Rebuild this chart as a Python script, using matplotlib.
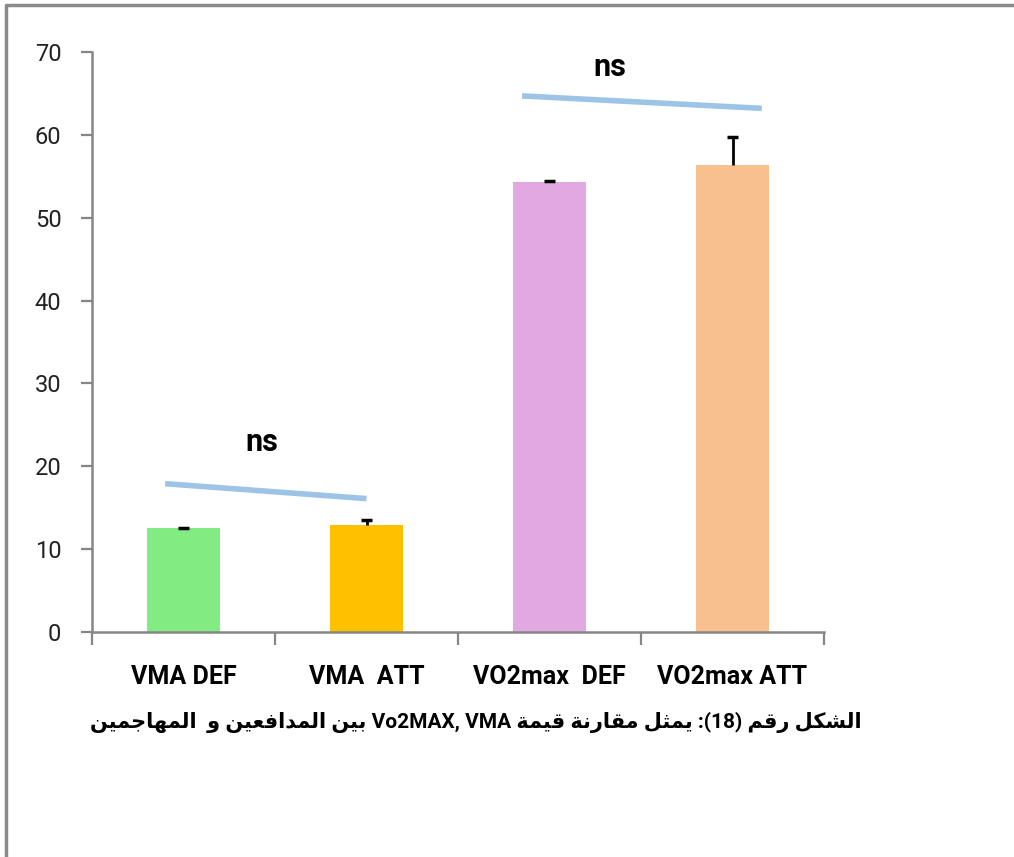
import matplotlib
matplotlib.use("Agg")
import matplotlib.pyplot as plt
from matplotlib.lines import Line2D

# bar data
categories = ["VMA DEF", "VMA  ATT", "VO2max  DEF", "VO2max ATT"]
means = [12.5, 12.9, 54.3, 56.4]
errors = [0.1, 0.6, 0.1, 3.4]
bar_colors = ["#82EC82", "#FFC000", "#E2A8E2", "#F9C08F"]

# "ns" annotations: line ends (x0, y0, x1, y1) and label position
sig_lines = [(-0.1, 17.9, 1.0, 16.1), (1.85, 64.7, 3.16, 63.2)]
sig_text = [(0.43, 22.9), (2.33, 68.2)]

caption = "الشكل رقم (18): يمثل مقارنة قيمة Vo2MAX, VMA بين المدافعين و  المهاجمين"

# --- minimal arabic shaping (no reshaper lib available) ---
FORMS = {
    "ا": (0xFE8D, 0xFE8E, None, None), "ب": (0xFE8F, 0xFE90, 0xFE91, 0xFE92),
    "ة": (0xFE93, 0xFE94, None, None), "ت": (0xFE95, 0xFE96, 0xFE97, 0xFE98),
    "ث": (0xFE99, 0xFE9A, 0xFE9B, 0xFE9C), "ج": (0xFE9D, 0xFE9E, 0xFE9F, 0xFEA0),
    "ح": (0xFEA1, 0xFEA2, 0xFEA3, 0xFEA4), "خ": (0xFEA5, 0xFEA6, 0xFEA7, 0xFEA8),
    "د": (0xFEA9, 0xFEAA, None, None), "ذ": (0xFEAB, 0xFEAC, None, None),
    "ر": (0xFEAD, 0xFEAE, None, None), "ز": (0xFEAF, 0xFEB0, None, None),
    "س": (0xFEB1, 0xFEB2, 0xFEB3, 0xFEB4), "ش": (0xFEB5, 0xFEB6, 0xFEB7, 0xFEB8),
    "ص": (0xFEB9, 0xFEBA, 0xFEBB, 0xFEBC), "ض": (0xFEBD, 0xFEBE, 0xFEBF, 0xFEC0),
    "ط": (0xFEC1, 0xFEC2, 0xFEC3, 0xFEC4), "ظ": (0xFEC5, 0xFEC6, 0xFEC7, 0xFEC8),
    "ع": (0xFEC9, 0xFECA, 0xFECB, 0xFECC), "غ": (0xFECD, 0xFECE, 0xFECF, 0xFED0),
    "ف": (0xFED1, 0xFED2, 0xFED3, 0xFED4), "ق": (0xFED5, 0xFED6, 0xFED7, 0xFED8),
    "ك": (0xFED9, 0xFEDA, 0xFEDB, 0xFEDC), "ل": (0xFEDD, 0xFEDE, 0xFEDF, 0xFEE0),
    "م": (0xFEE1, 0xFEE2, 0xFEE3, 0xFEE4), "ن": (0xFEE5, 0xFEE6, 0xFEE7, 0xFEE8),
    "ه": (0xFEE9, 0xFEEA, 0xFEEB, 0xFEEC), "و": (0xFEED, 0xFEEE, None, None),
    "ى": (0xFEEF, 0xFEF0, None, None), "ي": (0xFEF1, 0xFEF2, 0xFEF3, 0xFEF4),
}


def joins_next(c):
    return c in FORMS and FORMS[c][2] is not None


def shape_word(w):
    out = []
    for i, c in enumerate(w):
        if c not in FORMS:
            out.append(c)
            continue
        prev = i > 0 and joins_next(w[i - 1])
        nxt = joins_next(c) and i + 1 < len(w) and w[i + 1] in FORMS
        if prev and nxt:
            k = 3
        elif prev:
            k = 1
        elif nxt:
            k = 2
        else:
            k = 0
        out.append(chr(FORMS[c][k]))
    return "".join(reversed(out))


def is_arabic(tok):
    return any(c in FORMS for c in tok)


def is_latin(tok):
    return any(c.isascii() and c.isalpha() for c in tok)


def mirror_neutral(tok):
    # digits keep their order, punctuation flips and brackets mirror
    parts, num = [], ""
    for c in tok:
        if c.isdigit():
            num += c
        else:
            if num:
                parts.append(num)
                num = ""
            parts.append({"(": ")", ")": "("}.get(c, c))
    if num:
        parts.append(num)
    return "".join(reversed(parts))


def to_visual(text):
    toks = text.split(" ")
    runs = []
    for t in toks:
        if is_latin(t) and runs and runs[-1][0] == "L":
            runs[-1][1].append(t)
        elif is_latin(t):
            runs.append(["L", [t]])
        elif is_arabic(t):
            runs.append(["R", [shape_word(t)]])
        else:
            runs.append(["R", [mirror_neutral(t)]])
    return " ".join(" ".join(r[1]) for r in reversed(runs))


W, H = 1014, 857
fig = plt.figure(figsize=(W / 100, H / 100), dpi=100)
ax = fig.add_axes([92 / W, 1 - 632 / H, (824 - 92) / W, (632 - 52) / H])

x = list(range(len(categories)))
ax.bar(x, means, width=0.4, color=bar_colors, zorder=2)

# upper-only error bars with a cap
tops = [m + e for m, e in zip(means, errors)]
ax.vlines(x, means, tops, color="black", lw=2, zorder=3)
ax.hlines(tops, [i - 0.03 for i in x], [i + 0.03 for i in x], color="black",
          lw=2.5, zorder=3)

for (x0, y0, x1, y1) in sig_lines:
    ax.plot([x0, x1], [y0, y1], color="#9DC3E6", lw=4, solid_capstyle="butt",
            clip_on=False, zorder=4)
for (tx, ty) in sig_text:
    ax.text(tx, ty, "ns", ha="center", va="center", fontsize=22,
            fontweight="bold", family="Roboto", color="black")

ax.set_xlim(-0.5, 3.5)
ax.set_ylim(0, 70)
ax.set_yticks(range(0, 71, 10))
ax.set_xticks([-0.5, 0.5, 1.5, 2.5, 3.5])
ax.set_xticklabels([])
ax.set_xticks(x, minor=True)
ax.set_xticklabels(categories, minor=True, fontsize=18, fontweight="bold",
                   family="Roboto", color="black")
ax.tick_params(axis="x", which="major", length=9, width=1.6, color="#868686",
               direction="out")
ax.tick_params(axis="x", which="minor", length=0, pad=24)
ax.tick_params(axis="y", length=8, width=1.6, color="#868686", pad=14,
               labelsize=17, labelcolor="#222222")
for lab in ax.get_yticklabels():
    lab.set_family("Roboto")

for s in ["top", "right"]:
    ax.spines[s].set_visible(False)
for s in ["left", "bottom"]:
    ax.spines[s].set_color("#868686")
    ax.spines[s].set_linewidth(1.8)

fig.text(476 / W, 1 - 722 / H, to_visual(caption), ha="center", va="center",
         fontsize=15, fontweight="bold", family=["Roboto", "DejaVu Sans"])

# outer frame (only top and left edges are visible in the crop)
fig.add_artist(Line2D([6 / W, 6 / W, 1], [0, 1 - 5 / H, 1 - 5 / H],
                      transform=fig.transFigure, color="#8A8A8A", lw=2.5))

fig.savefig("out.png", dpi=100)
